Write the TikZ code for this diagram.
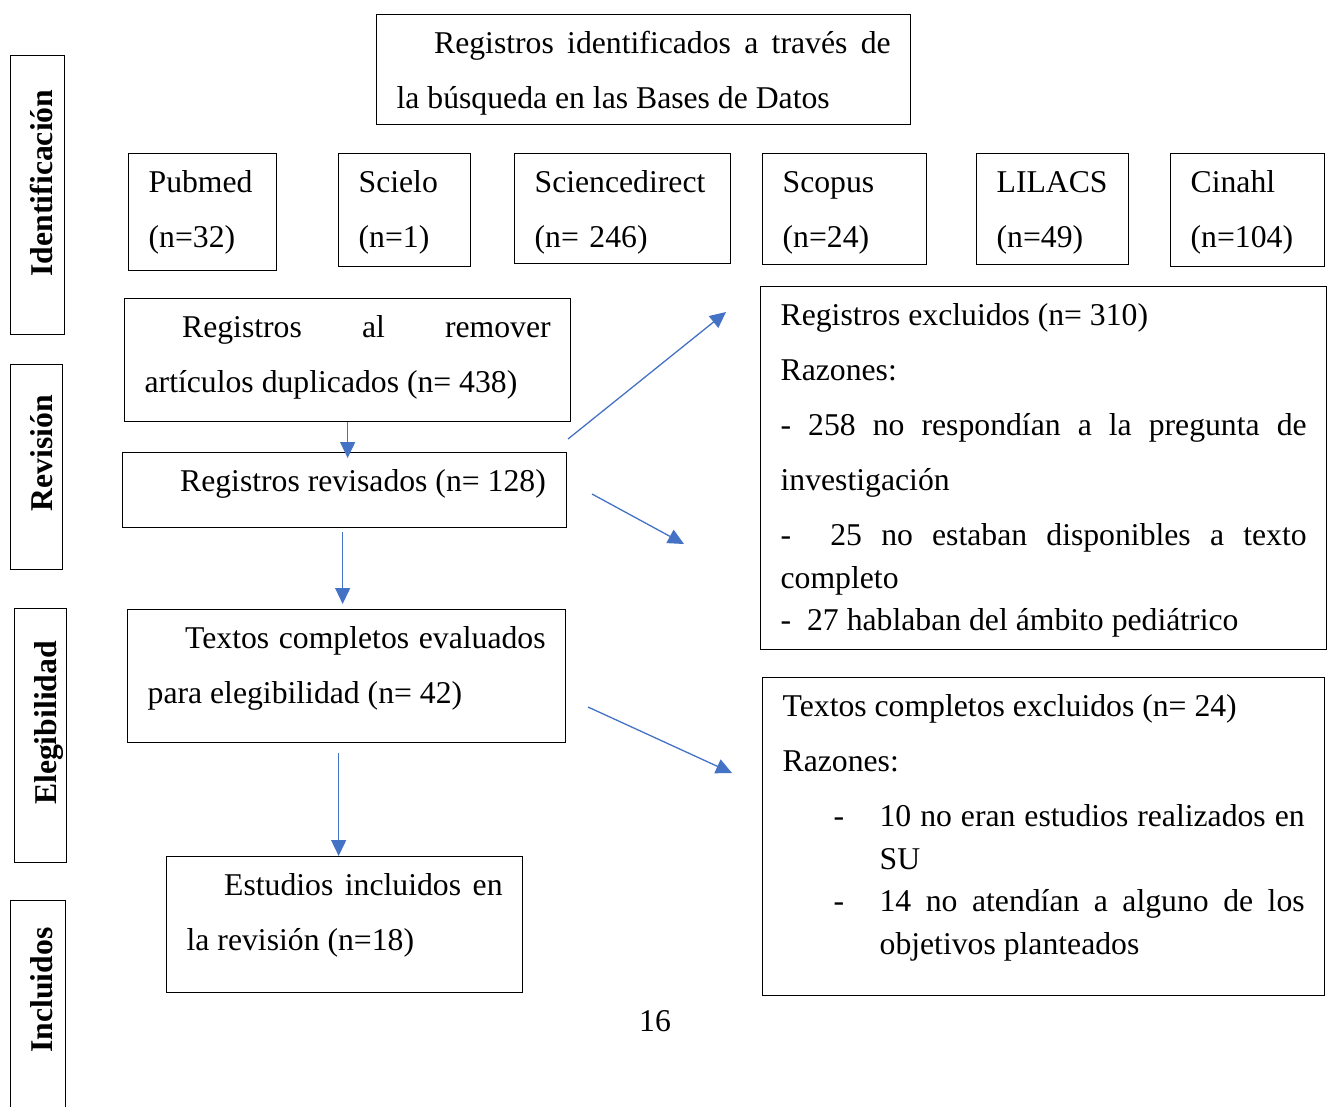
\documentclass[tikz,border=0pt]{standalone}
\usepackage{fontspec}
\setmainfont{Liberation Serif}
\usetikzlibrary{arrows.meta,calc}
\definecolor{azul}{HTML}{4472C4}
\newcommand\letra{\fontsize{31.7}{55}\selectfont}
\tikzset{
  caja/.style={draw, line width=1.3pt, anchor=north west, inner xsep=20pt,
    inner ysep=0pt, align=justify, text height=39pt, font=\letra},
  base/.style={caja, align=left},
  fase/.style={draw, line width=1.3pt, anchor=north west, inner sep=0pt},
  etapa/.style={rotate=90, anchor=base, font=\letra\bfseries},
  flecha/.style={color=azul, line width=1.3pt, -{Triangle[length=16pt,width=15pt]}}
}

\begin{document}
\begin{tikzpicture}[x=1pt,y=-1pt]
     \useasboundingbox (0,0) rectangle (1333,1106);
     % fases
     \node[fase, minimum width=54pt, minimum height=279pt] at (10,55) (fid) {};
     \node[fase, minimum width=52pt, minimum height=205pt] at (10,364) (frv) {};
     \node[fase, minimum width=52pt, minimum height=254pt] at (14,608) (fel) {};
     \node[fase, minimum width=55pt, minimum height=230pt] at (10,900) (fin) {};
     \node[etapa] at (52,183) (tid) {Identificación};
     \node[etapa] at (52,453) (trv) {Revisión};
     \node[etapa] at (56,723) (tel) {Elegibilidad};
     \node[etapa] at (52,990) (tin) {Incluidos};
     % identificacion
     \node[caja, text width=494pt, text depth=71pt] at (376,14) (bd)
       {\hspace*{37.5pt}Registros identificados a través de\linebreak la búsqueda en las Bases de Datos};
     \node[base, text width=108pt, text depth=78pt] at (128,153) (pm) {Pubmed\\(n=32)};
     \node[base, text width=92pt, text depth=74pt] at (338,153) (sc) {Scielo\\(n=1)};
     \node[base, text width=176pt, text depth=71pt] at (514,153) (sd) {Sciencedirect\\(n= 246)};
     \node[base, text width=124pt, text depth=72pt] at (762,153) (sp) {Scopus\\(n=24)};
     \node[base, text width=112pt, text depth=72pt] at (976,153) (li) {LILACS\\(n=49)};
     \node[base, text width=114pt, text depth=74pt] at (1170,153) (ci) {Cinahl\\(n=104)};
     % revision
     \node[caja, text width=406pt, text depth=84pt] at (124,298) (rr)
       {\hspace*{37.5pt}Registros al remover\linebreak artículos duplicados (n= 438)};
     \node[caja, text width=404pt, text depth=36pt] at (122,452) (rv)
       {\hspace*{37.5pt}Registros revisados (n= 128)};
     \node[caja, text width=526pt, text depth=324pt] at (760,286) (re)
       {Registros excluidos (n= 310)\par
        Razones:\par
        - 258 no respondían a la pregunta de\linebreak investigación\par
        \vspace{12pt}\fontsize{31.7}{43}\selectfont
        -\hspace{20pt} 25 no estaban disponibles a texto\linebreak completo\par
        \fontsize{31.7}{42}\selectfont
        -\hspace{8pt} 27 hablaban del ámbito pediátrico\par};
     % elegibilidad
     \node[caja, text width=398pt, text depth=94pt] at (127,609) (te)
       {\hspace*{37.5pt}Textos completos evaluados\linebreak para elegibilidad (n= 42)};
     \node[caja, text width=522pt, text depth=279pt] at (762,677) (tx)
       {Textos completos excluidos (n= 24)\par
        Razones:\par
        \vspace{12.5pt}\fontsize{31.7}{42.5}\selectfont
        \leavevmode\leftskip=97pt\llap{-\hspace{35.4pt}}10 no eran estudios realizados en\linebreak SU\par
        \leavevmode\leftskip=97pt\llap{-\hspace{35.4pt}}14 no atendían a alguno de los\linebreak objetivos planteados\par};
     % incluidos
     \node[caja, text width=316pt, text depth=97pt] at (166,856) (ei)
       {\hspace*{37.5pt}Estudios incluidos en\linebreak la revisión (n=18)};
     \node[font=\letra] at (655,1021) (pg) {16};
     % flechas
     \coordinate (d1) at (568,439);
     \coordinate (d1e) at (726,312);
     \coordinate (d2) at (592,494);
     \coordinate (d2e) at (684,544);
     \coordinate (d3) at (588,707);
     \coordinate (d3e) at (732,773);
     \path (rr.south) edge[flecha] ($(rr.south |- rv.north)+(0,6)$)
              ($(rv.south)+(-2,4)$) edge[flecha] ($(rv.south |- te.north)+(-2,-5)$)
              ($(te.south)+(-8,10)$) edge[flecha] ($(te.south |- ei.north)+(-8,0)$)
              (d1) edge[flecha] (d1e)
              (d2) edge[flecha] (d2e)
              (d3) edge[flecha] (d3e);
\end{tikzpicture}
\end{document}
